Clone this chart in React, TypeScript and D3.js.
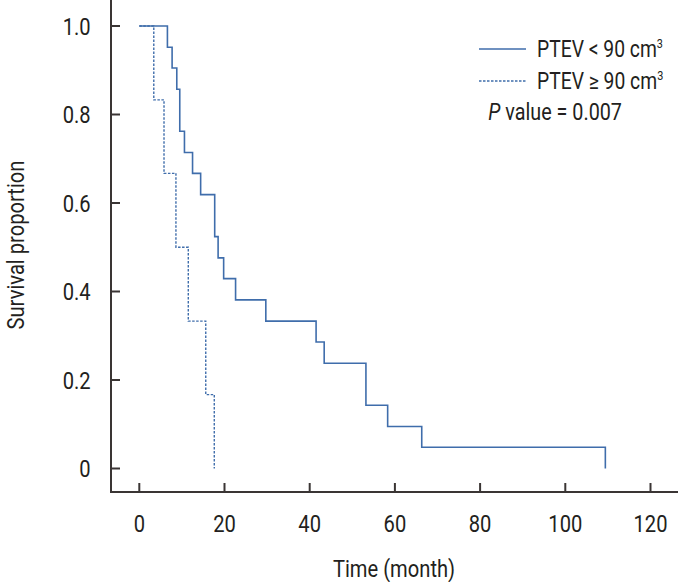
import React from "react";
import * as d3 from "d3";

const yTicks = [0, 0.2, 0.4, 0.6, 0.8, 1.0];
const yTickLabels = ["0", "0.2", "0.4", "0.6", "0.8", "1.0"];
const xTicks = [0, 20, 40, 60, 80, 100, 120];

// PTEV < 90 cm3 (solid)
const lowTimes = [0, 6.6, 7.7, 8.8, 9.5, 10.6, 12.5, 14.4, 17.7, 18.5, 19.8, 22.6, 29.7, 41.5, 43.4, 53.2, 58.3, 66.3, 109.4];
const lowSurv = [1.0, 0.952, 0.905, 0.857, 0.762, 0.714, 0.667, 0.619, 0.524, 0.476, 0.429, 0.381, 0.333, 0.286, 0.238, 0.143, 0.095, 0.048, 0];

// PTEV >= 90 cm3 (dashed)
const highTimes = [0, 3.4, 5.8, 8.6, 11.5, 15.6, 17.6];
const highSurv = [1.0, 0.833, 0.667, 0.5, 0.333, 0.167, 0];

const W = 678;
const H = 582;
const FONT = "Roboto, 'Liberation Sans', sans-serif";
const TEXT = "#231f20";
const AXIS = "#3a3534";
const BLUE = "#3f6dab";
const SX = 0.84;

function CText({ x, y, anchor = "start", size = 24, sx = SX, children, rotate = 0 }: any) {
  const tr = `translate(${x},${y})${rotate ? ` rotate(${rotate})` : ""} scale(${sx},1)`;
  return (
    <text transform={tr} textAnchor={anchor} fontSize={size} fontFamily={FONT} fill={TEXT}>
      {children}
    </text>
  );
}

export default function App() {
  const x = d3.scaleLinear().domain([0, 120]).range([139.3, 650.5]);
  const y = d3.scaleLinear().domain([0, 1]).range([468.5, 26]);
  const axisX = 111;
  const axisY = 492;

  const line = d3
    .line<[number, number]>()
    .x((d) => x(d[0]))
    .y((d) => y(d[1]))
    .curve(d3.curveStepAfter);

  const lowPts: [number, number][] = lowTimes.map((t, i) => [t, lowSurv[i]]);
  const highPts: [number, number][] = highTimes.map((t, i) => [t, highSurv[i]]);

  return (
    <svg width={W} height={H} style={{ position: "absolute", left: 0, top: 0, background: "#fff" }}>
      <rect x={0} y={0} width={W} height={H} fill="#fff" />
      {/* axes */}
      <line x1={axisX} y1={0} x2={axisX} y2={axisY + 1} stroke={AXIS} strokeWidth={2} />
      <line x1={axisX - 1} y1={axisY} x2={W} y2={axisY} stroke={AXIS} strokeWidth={2} />
      {yTicks.map((t, i) => (
        <g key={"y" + i}>
          <line x1={axisX} x2={axisX + 9} y1={y(t)} y2={y(t)} stroke={AXIS} strokeWidth={2} />
          <CText x={90.7} y={y(t) + 8.6} anchor="end">
            {yTickLabels[i]}
          </CText>
        </g>
      ))}
      {xTicks.map((t, i) => (
        <g key={"x" + i}>
          <line x1={x(t)} x2={x(t)} y1={axisY} y2={axisY - 9} stroke={AXIS} strokeWidth={2} />
          <CText x={x(t)} y={532.3} anchor="middle">
            {String(t)}
          </CText>
        </g>
      ))}
      <CText x={394} y={576.7} anchor="middle">
        Time (month)
      </CText>
      <CText x={24} y={245} anchor="middle" rotate={-90}>
        Survival proportion
      </CText>

      {/* curves */}
      <path d={line(highPts) || ""} fill="none" stroke={BLUE} strokeWidth={1.4} strokeDasharray="2.5,1.5" />
      <path d={line(lowPts) || ""} fill="none" stroke={BLUE} strokeWidth={1.6} />

      {/* legend */}
      <line x1={479} x2={526} y1={49} y2={49} stroke={BLUE} strokeWidth={1.6} />
      <line x1={479} x2={526} y1={81} y2={81} stroke={BLUE} strokeWidth={1.4} strokeDasharray="2.5,1.5" />
      <CText x={537} y={57.3} size={23}>
        {"PTEV < 90 cm"}
        <tspan fontSize={13} dy={-9}>3</tspan>
      </CText>
      <CText x={537} y={89.3} size={23}>
        {"PTEV ≥ 90 cm"}
        <tspan fontSize={13} dy={-9}>3</tspan>
      </CText>
      <CText x={488.3} y={120} size={23} sx={0.86}>
        <tspan fontStyle="italic">P</tspan>
        {" value = 0.007"}
      </CText>
    </svg>
  );
}
